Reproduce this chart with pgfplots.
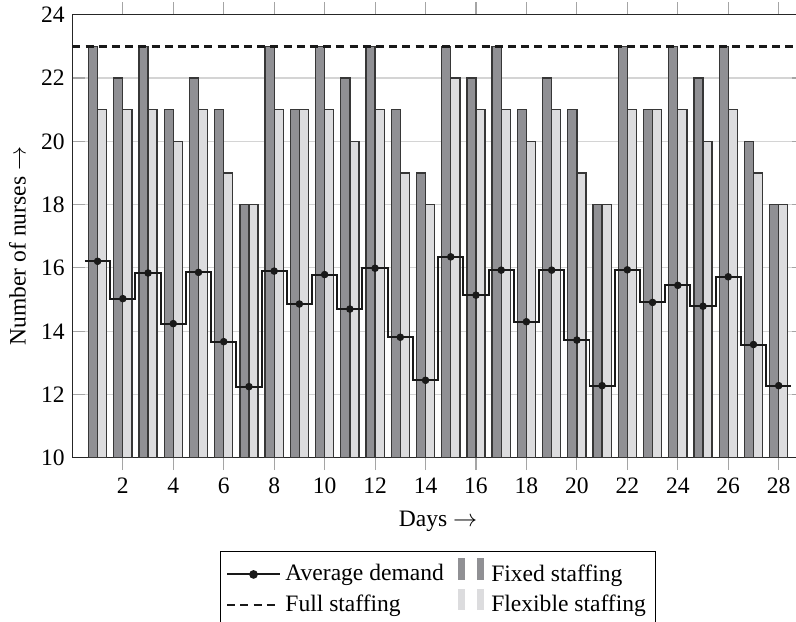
\documentclass[border=0pt]{standalone}
\usepackage{pgfplots}
\pgfplotsset{compat=1.18}
\usepackage{pgfplotstable}
\usepackage{fontspec}
\setmainfont{Liberation Serif}
\definecolor{fixedc}{RGB}{144,144,148}
\definecolor{flexc}{RGB}{220,220,222}
\definecolor{edgec}{RGB}{55,55,55}
\definecolor{gridc}{RGB}{212,212,212}
\definecolor{tickc}{RGB}{165,165,165}
\pgfplotsset{
  lineleg/.style={legend image code/.code={\draw[mark repeat=2,mark phase=2,##1] plot coordinates {(0cm,0cm) (0.42cm,0cm) (0.84cm,0cm)};}},
  dashleg/.style={legend image code/.code={\draw[##1] (0cm,0cm) -- (0.84cm,0cm);}},
  barleg/.style={legend image code/.code={\fill[##1, draw=none] (-1.8pt,-2.3pt) rectangle (1.4pt,7.3pt); \fill[##1, draw=none] (6.8pt,-2.3pt) rectangle (10pt,7.3pt); \path (11pt,0pt);}},
}
\pgfplotstableread{
day fixed flex demand
1 23 21 16.21
2 22 21 15.03
3 23 21 15.84
4 21 20 14.24
5 22 21 15.86
6 21 19 13.67
7 18 18 12.25
8 23 21 15.90
9 21 21 14.86
10 23 21 15.79
11 22 20 14.70
12 23 21 15.99
13 21 19 13.81
14 19 18 12.45
15 23 22 16.35
16 22 21 15.14
17 23 21 15.93
18 21 20 14.30
19 22 21 15.93
20 21 19 13.72
21 18 18 12.28
22 23 21 15.94
23 21 21 14.91
24 23 21 15.45
25 22 20 14.79
26 23 21 15.72
27 20 19 13.58
28 18 18 12.28
}\datatable
\begin{document}
\begin{tikzpicture}
\begin{axis}[
  name=ax,
  scale only axis,
  width=332.5pt, height=201.4pt,
  xmin=0, xmax=29, ymin=10, ymax=24,
  xtick={2,4,...,28},
  ytick={10,12,...,24},
  xticklabel={\pgfmathparse{int(round(\tick))}\pgfmathresult},
  yticklabel={\pgfmathparse{int(round(\tick))}\pgfmathresult},
  xtick align=outside,
  ytick align=inside,
  major tick length=5.6pt,
  tick style={color=tickc, line width=0.5pt},
  ymajorgrids,
  grid style={color=gridc, line width=0.5pt},
  axis line style={line width=0.6pt, color=black!85},
  tick label style={font=\fontsize{10.7}{12.8}\selectfont},
  label style={font=\fontsize{10.7}{12.8}\selectfont},
  xlabel={Days $\rightarrow$},
  ylabel={Number of nurses $\rightarrow$},
  xlabel style={at={(axis description cs:0.5,0)}, anchor=center, yshift=-28.8pt},
  ylabel style={at={(axis description cs:0,0.5)}, anchor=center, yshift=25pt, xshift=-4.5pt},
  legend columns=2,
  legend style={at={(axis description cs:0.5,0)}, anchor=north, yshift=-42.4pt,
    draw=black, line width=0.6pt, font=\fontsize{10.7}{12.8}\selectfont,
    inner xsep=2.5pt, inner ysep=3pt, row sep=0pt,
    /tikz/every odd column/.append style={column sep=0pt},
    /tikz/every even column/.append style={column sep=4.5pt}},
  legend cell align=left,
]
\addplot[ybar, bar width=0.36, bar shift=-0.18, fill=fixedc, draw=edgec, line width=0.6pt, forget plot]
  table[x=day, y=fixed] {\datatable};
\addplot[ybar, bar width=0.36, bar shift=0.18, fill=flexc, draw=edgec, line width=0.6pt, forget plot]
  table[x=day, y=flex] {\datatable};
\addplot[const plot mark left, black!90, line width=0.9pt, forget plot] coordinates {
(0.5,16.21) (1.5,15.03) (2.5,15.84) (3.5,14.24) (4.5,15.86) (5.5,13.67) (6.5,12.25)
(7.5,15.90) (8.5,14.86) (9.5,15.79) (10.5,14.70) (11.5,15.99) (12.5,13.81) (13.5,12.45)
(14.5,16.35) (15.5,15.14) (16.5,15.93) (17.5,14.30) (18.5,15.93) (19.5,13.72) (20.5,12.28)
(21.5,15.94) (22.5,14.91) (23.5,15.45) (24.5,14.79) (25.5,15.72) (26.5,13.58) (27.5,12.28)
(28.5,12.28)};
\addplot[only marks, mark=*, mark size=1.5pt, black!90, forget plot]
  table[x=day, y=demand] {\datatable};
\addplot[black!90, line width=1.1pt, dash pattern=on 3.6pt off 2.4pt, forget plot] coordinates {(0,23) (29,23)};
% legend
\addlegendimage{black!90, line width=0.9pt, mark=*, mark size=1.5pt, lineleg}
\addlegendentry{Average demand}
\addlegendimage{fill=fixedc, barleg}
\addlegendentry{Fixed staffing}
\addlegendimage{black!90, line width=1.1pt, dash pattern=on 3.6pt off 2.4pt, dashleg}
\addlegendentry{Full staffing}
\addlegendimage{fill=flexc, barleg}
\addlegendentry{Flexible staffing}
\end{axis}
\pgfresetboundingbox
\path[use as bounding box] ([shift={(-32.9pt,-74.6pt)}]ax.south west) rectangle ([shift={(328.9pt,208.1pt)}]ax.south west);
\end{tikzpicture}
\end{document}
